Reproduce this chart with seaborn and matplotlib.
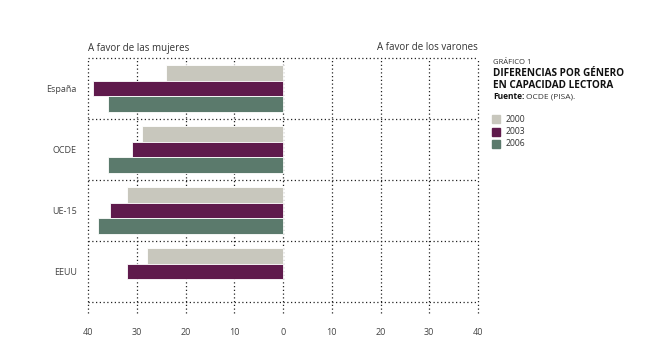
import pandas as pd
import matplotlib.pyplot as plt
import seaborn as sns

# Diferencias en puntos a favor de las mujeres (PISA, lectura)
countries = ['España', 'OCDE', 'UE-15', 'EEUU']
years = ['2000', '2003', '2006']
gap_2000 = [24, 29, 32, 28]
gap_2003 = [39, 31, 35.5, 32]
gap_2006 = [36, 36, 38, None]
colors = ['#c8c7bd', '#5f1a4c', '#5b7a6c']
ticks = [-40, -30, -20, -10, 0, 10, 20, 30, 40]

rows = []
for year, vals in zip(years, [gap_2000, gap_2003, gap_2006]):
    for c, v in zip(countries, vals):
        if v is not None:
            rows.append({'pais': c, 'año': year, 'dif': -v})
df = pd.DataFrame(rows)

sns.set_style('white')
plt.rcParams['font.family'] = ['Open Sans', 'DejaVu Sans']

fig = plt.figure(figsize=(6.6, 3.59), dpi=100)
# axes extends a little below the last grid line so the vertical lines stick out
ax = fig.add_axes([88 / 660, 1 - 313 / 359, 390 / 660, 255 / 359])

sns.barplot(data=df, y='pais', x='dif', hue='año', order=countries,
            hue_order=years, palette=colors, orient='h', width=0.78,
            edgecolor='white', linewidth=0.6, saturation=1, ax=ax, legend=False)
for p in ax.patches:
    p.set_zorder(2)

extra = 11 / 61
ax.set_ylim(3.5 + extra, -0.5)
ax.set_xlim(-40, 40)
dots = (0, (1, 2))
for x in ticks:
    ax.plot([x, x], [3.5 + extra, -0.5], color='#222222', linestyle=dots,
            linewidth=0.9, zorder=1, clip_on=False)
for y in [-0.5, 0.5, 1.5, 2.5, 3.5]:
    ax.plot([-40, 40], [y, y], color='#222222', linestyle=dots,
            linewidth=0.9, zorder=1, clip_on=False)

for s in ax.spines.values():
    s.set_visible(False)
ax.set_xticks(ticks)
ax.set_xticklabels([str(abs(t)) for t in ticks], fontsize=6.5, color='#444444')
ax.tick_params(axis='x', length=0, pad=11)
ax.tick_params(axis='y', length=0, pad=8)
ax.set_yticklabels(countries, fontsize=6.5, color='#444444')
ax.set_xlabel('')
ax.set_ylabel('')

fig.text(88 / 660, 1 - 48 / 359, 'A favor de las mujeres', fontsize=7,
         color='#333333', ha='left', va='center')
fig.text(478 / 660, 1 - 48 / 359, 'A favor de los varones', fontsize=7,
         color='#333333', ha='right', va='center')

tx = 493 / 660
fig.text(tx, 1 - 62 / 359, 'GRÁFICO 1', fontsize=5.5, color='#333333', va='center')
fig.text(tx, 1 - 73 / 359, 'DIFERENCIAS POR GÉNERO', fontsize=7.2,
         fontweight='bold', color='#111111', va='center')
fig.text(tx, 1 - 85 / 359, 'EN CAPACIDAD LECTORA', fontsize=7.2,
         fontweight='bold', color='#111111', va='center')
t = fig.text(tx, 1 - 97 / 359, 'Fuente:', fontsize=6, fontweight='bold',
             color='#111111', va='center')
fig.canvas.draw()
bb = t.get_window_extent()
fig.text(bb.x1 / 660 + 2 / 660, 1 - 97 / 359, 'OCDE (PISA).', fontsize=6,
         color='#333333', va='center')

for i, (year, col) in enumerate(zip(years, colors)):
    yc = 119 + 12.5 * i
    fig.patches.append(plt.Rectangle((492 / 660, 1 - (yc + 4) / 359), 8 / 660, 8 / 359,
                                     transform=fig.transFigure, color=col))
    fig.text(506 / 660, 1 - yc / 359, year, fontsize=6.2, color='#333333', va='center')

fig.savefig('out.png', dpi=100)
